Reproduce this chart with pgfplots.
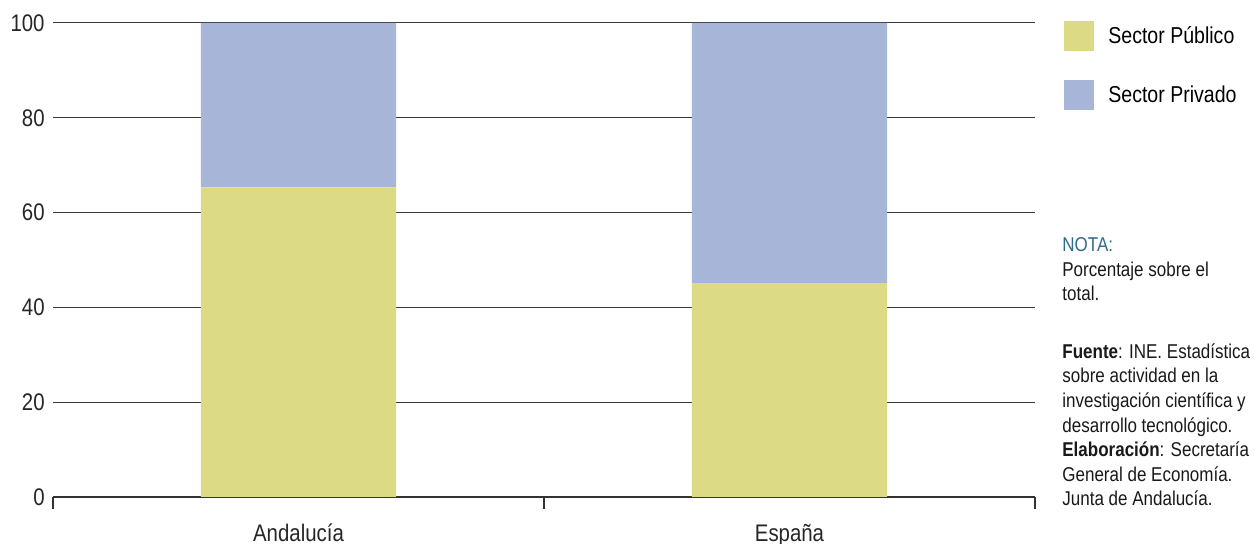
\documentclass[border=0pt]{standalone}
\usepackage{pgfplots}
\pgfplotsset{compat=1.18}
\usepackage{fontspec}
\setmainfont{Liberation Sans}[FakeStretch=0.85]
\definecolor{pub}{HTML}{DCDA84}
\definecolor{priv}{HTML}{A6B5D8}
\definecolor{nota}{HTML}{2E6C8A}
\definecolor{gridc}{HTML}{3A3A3A}
\begin{document}
\begin{tikzpicture}
\path[use as bounding box] (-26.5pt,-23.5pt) rectangle (601pt,248.5pt);
\begin{axis}[
  at={(0pt,0pt)}, anchor=south west,
  scale only axis, width=491pt, height=237pt,
  xmin=0, xmax=2, ymin=0, ymax=100,
  axis x line*=bottom, axis y line*=left,
  x axis line style={draw=black!80, line width=0.7pt, -},
  y axis line style={draw=none},
  xtick={0.5,1.5}, xticklabels={Andalucía,España},
  x tick style={draw=black!80, line width=0.6pt},
  major tick length=0pt,
  extra x ticks={0,1,2}, extra x tick labels={},
  extra x tick style={major tick length=6pt, tick align=outside, grid=none},
  ytick={0,20,40,60,80,100},
  y tick style={draw=none},
  ymajorgrids, grid style={draw=gridc, line width=0.5pt},
  /pgf/number format/assume math mode=true,
  tick label style={font=\fontsize{12}{14}\selectfont, text=black!85},
  yticklabel style={anchor=east, inner sep=0pt, xshift=-4pt},
  xticklabel style={anchor=base, inner sep=0pt, yshift=-22.3pt},
  ybar stacked, bar width=97.5pt,
  legend cell align=left,
  legend image code/.code={\fill[#1,draw=none] (0pt,-7.5pt) rectangle (15pt,7.5pt);},
  legend style={at={(1.0295,1.0042)}, anchor=north west, draw=none, fill=none,
    inner sep=0pt, font=\fontsize{11.5}{13}\selectfont, row sep=14.5pt,
    nodes={inner sep=0pt}, /tikz/every odd column/.append style={column sep=7pt}},
]
\addplot[fill=pub, draw=none] coordinates {(0.5,65.3) (1.5,45.1)};
\addplot[fill=priv, draw=none] coordinates {(0.5,34.7) (1.5,54.9)};
\legend{Sector Público, Sector Privado}
\end{axis}
\node[anchor=base west, inner sep=0pt, align=left, font=\fontsize{10}{12.3}\selectfont, text=black!90] at (504.5pt,-4.5pt)
{{\color{nota}NOTA:}\\
Porcentaje sobre el\\
total.\\[16.5pt]
\textbf{Fuente}: INE. Estadística\\
sobre actividad en la\\
investigación científica y\\
desarrollo tecnológico.\\
\textbf{Elaboración}: Secretaría\\
General de Economía.\\
Junta de Andalucía.};
\end{tikzpicture}
\end{document}
